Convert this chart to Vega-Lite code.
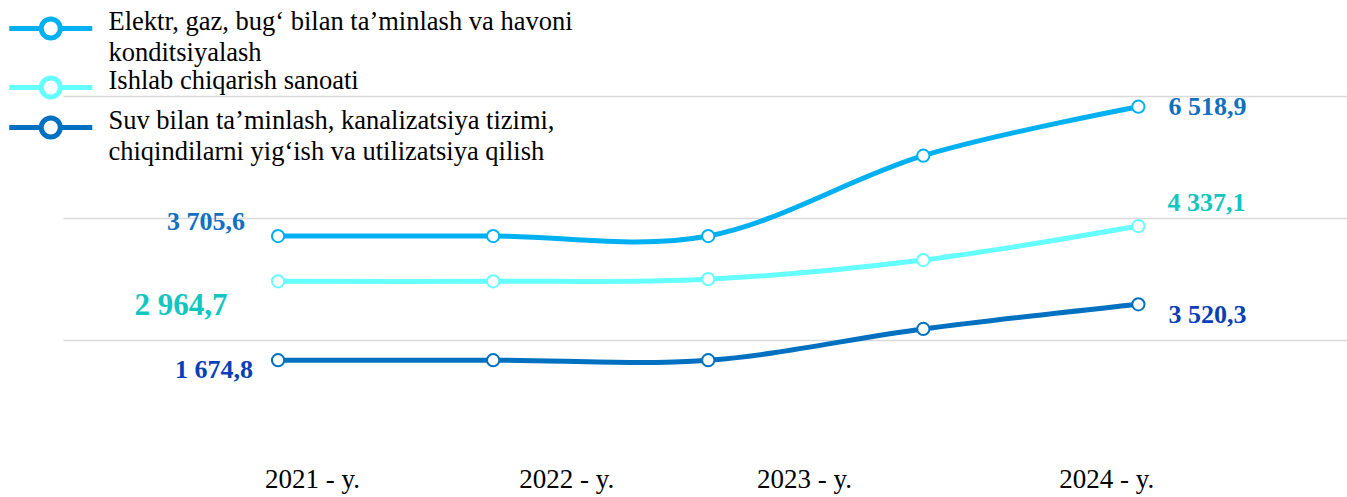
{
  "$schema": "https://vega.github.io/schema/vega-lite/v6.json",
  "autosize": "none",
  "width": 1284,
  "height": 462.6,
  "padding": {"left": 63, "top": 0, "right": 0, "bottom": 34.4},
  "background": "white",
  "config": {"view": {"stroke": null}, "style": {"guide-label": {"lineHeight": 31}}},
  "data": {"values": [
    {"series": "Elektr, gaz, bug‘ bilan ta’minlash va havoni konditsiyalash", "i": 0, "value": 3705.6, "label": "3 705,6"},
    {"series": "Elektr, gaz, bug‘ bilan ta’minlash va havoni konditsiyalash", "i": 1, "value": 3705.6},
    {"series": "Elektr, gaz, bug‘ bilan ta’minlash va havoni konditsiyalash", "i": 2, "value": 3705.6},
    {"series": "Elektr, gaz, bug‘ bilan ta’minlash va havoni konditsiyalash", "i": 3, "value": 5019},
    {"series": "Elektr, gaz, bug‘ bilan ta’minlash va havoni konditsiyalash", "i": 4, "value": 5820, "label": "6 518,9"},
    {"series": "Ishlab chiqarish sanoati", "i": 0, "value": 2964.7, "label": "2 964,7"},
    {"series": "Ishlab chiqarish sanoati", "i": 1, "value": 2964.7},
    {"series": "Ishlab chiqarish sanoati", "i": 2, "value": 3000},
    {"series": "Ishlab chiqarish sanoati", "i": 3, "value": 3313},
    {"series": "Ishlab chiqarish sanoati", "i": 4, "value": 3869, "label": "4 337,1"},
    {"series": "Suv bilan ta’minlash, kanalizatsiya tizimi, chiqindilarni yig‘ish va utilizatsiya qilish", "i": 0, "value": 1674.8, "label": "1 674,8"},
    {"series": "Suv bilan ta’minlash, kanalizatsiya tizimi, chiqindilarni yig‘ish va utilizatsiya qilish", "i": 1, "value": 1674.8},
    {"series": "Suv bilan ta’minlash, kanalizatsiya tizimi, chiqindilarni yig‘ish va utilizatsiya qilish", "i": 2, "value": 1674.8},
    {"series": "Suv bilan ta’minlash, kanalizatsiya tizimi, chiqindilarni yig‘ish va utilizatsiya qilish", "i": 3, "value": 2185},
    {"series": "Suv bilan ta’minlash, kanalizatsiya tizimi, chiqindilarni yig‘ish va utilizatsiya qilish", "i": 4, "value": 2589, "label": "3 520,3"}
  ]},
  "encoding": {
    "x": {
      "field": "i", "type": "quantitative",
      "scale": {"domain": [-1, 4.97], "nice": false, "zero": false},
      "axis": {
        "title": null, "grid": false, "domain": false, "ticks": false,
        "values": [0.158, 1.34, 2.445, 3.851],
        "labelExpr": "datum.value < 1 ? '2021 - y.' : datum.value < 2 ? '2022 - y.' : datum.value < 3 ? '2023 - y.' : '2024 - y.'",
        "labelFont": "Liberation Serif", "labelFontSize": 27, "labelColor": "#000000",
        "labelBaseline": "alphabetic", "labelPadding": 25, "labelFlush": false, "labelOverlap": false
      }
    },
    "y": {
      "field": "value", "type": "quantitative",
      "scale": {"domain": [0, 7565], "nice": false, "zero": false},
      "axis": {
        "title": null, "labels": false, "ticks": false, "domain": false,
        "grid": true, "values": [2000, 4000, 6000],
        "gridColor": "#d9d9d9", "gridWidth": 1.5
      }
    }
  },
  "layer": [
    {
      "mark": {"type": "line", "interpolate": "cardinal", "tension": 0, "strokeWidth": 5,
        "point": {"filled": false, "fill": "white", "size": 150, "strokeWidth": 2, "opacity": 1}},
      "encoding": {
        "color": {
          "field": "series", "type": "nominal",
          "scale": {"domain": [
            "Elektr, gaz, bug‘ bilan ta’minlash va havoni konditsiyalash",
            "Ishlab chiqarish sanoati",
            "Suv bilan ta’minlash, kanalizatsiya tizimi, chiqindilarni yig‘ish va utilizatsiya qilish"
          ], "range": ["#00B0F0", "#66FFFF", "#0070C0"]},
          "legend": {
            "title": null, "orient": "none", "legendX": -25.5, "legendY": 9.2,
            "padding": 0,
            "symbolType": "M-4.15,0.6H-0.95M0.95,0.6H4.15M0.95,0.6A0.95,0.95,0,1,1,-0.95,0.6A0.95,0.95,0,1,1,0.95,0.6Z",
            "symbolSize": 400, "symbolStrokeWidth": 5, "symbolFillColor": "white", "symbolOpacity": 1,
            "labelFont": "Liberation Serif", "labelFontSize": 26.5, "labelColor": "#000000",
            "labelLimit": 800, "labelOffset": 44.5, "rowPadding": 0,
            "labelExpr": "datum.label == 'Ishlab chiqarish sanoati' ? datum.label : split(replace(replace(datum.label, 'havoni ', 'havoni\\n'), 'tizimi, ', 'tizimi,\\n'), '\\n')"
          }
        }
      }
    },
    {
      "transform": [{"filter": "datum.label == '3 705,6'"}],
      "mark": {"type": "text", "align": "center", "baseline": "alphabetic", "dx": -72, "dy": -6, "font": "Liberation Serif", "fontWeight": "bold", "fontSize": 26, "color": "#1170C0"},
      "encoding": {"text": {"field": "label"}}
    },
    {
      "transform": [{"filter": "datum.label == '2 964,7'"}],
      "mark": {"type": "text", "align": "center", "baseline": "alphabetic", "dx": -97, "dy": 34, "font": "Liberation Serif", "fontWeight": "bold", "fontSize": 31, "color": "#12C6BF"},
      "encoding": {"text": {"field": "label"}}
    },
    {
      "transform": [{"filter": "datum.label == '1 674,8'"}],
      "mark": {"type": "text", "align": "center", "baseline": "alphabetic", "dx": -64, "dy": 17.5, "font": "Liberation Serif", "fontWeight": "bold", "fontSize": 26, "color": "#0A3FB8"},
      "encoding": {"text": {"field": "label"}}
    },
    {
      "transform": [{"filter": "datum.label == '6 518,9'"}],
      "mark": {"type": "text", "align": "center", "baseline": "alphabetic", "dx": 69, "dy": 8, "font": "Liberation Serif", "fontWeight": "bold", "fontSize": 26, "color": "#1170C0"},
      "encoding": {"text": {"field": "label"}}
    },
    {
      "transform": [{"filter": "datum.label == '4 337,1'"}],
      "mark": {"type": "text", "align": "center", "baseline": "alphabetic", "dx": 68, "dy": -15, "font": "Liberation Serif", "fontWeight": "bold", "fontSize": 26, "color": "#12C6BF"},
      "encoding": {"text": {"field": "label"}}
    },
    {
      "transform": [{"filter": "datum.label == '3 520,3'"}],
      "mark": {"type": "text", "align": "center", "baseline": "alphabetic", "dx": 69, "dy": 19, "font": "Liberation Serif", "fontWeight": "bold", "fontSize": 26, "color": "#0A3FB8"},
      "encoding": {"text": {"field": "label"}}
    }
  ]
}
